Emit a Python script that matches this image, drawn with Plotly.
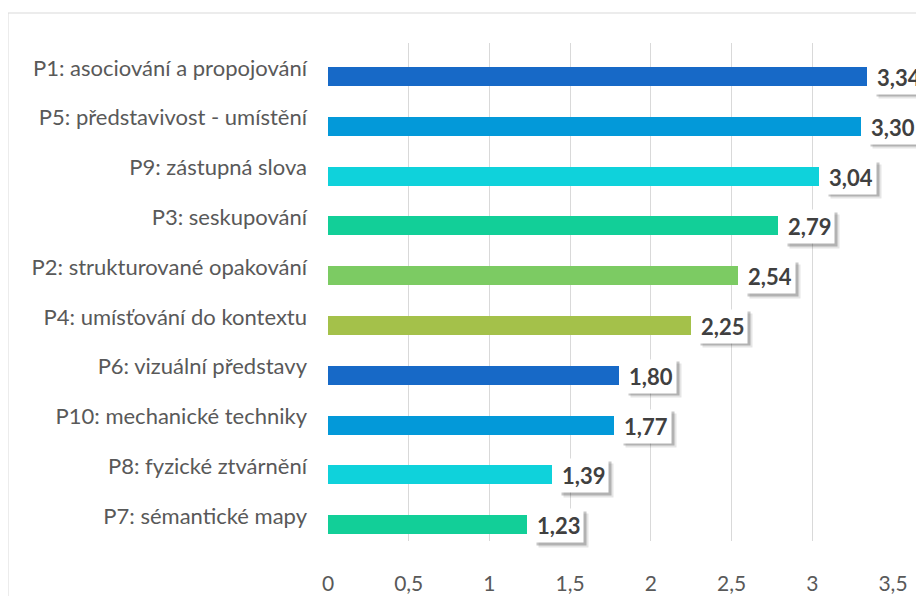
import plotly.graph_objects as go

# data (top to bottom as shown)
categories = [
    "P1: asociování a propojování",
    "P5: představivost - umístění",
    "P9: zástupná slova",
    "P3: seskupování",
    "P2: strukturované opakování",
    "P4: umísťování do kontextu",
    "P6: vizuální představy",
    "P10: mechanické techniky",
    "P8: fyzické ztvárnění",
    "P7: sémantické mapy",
]
values = [3.34, 3.30, 3.04, 2.79, 2.54, 2.25, 1.80, 1.77, 1.39, 1.23]
x_ticks = [0, 0.5, 1, 1.5, 2, 2.5, 3, 3.5]

# style
palette = ["#1769C7", "#0399D9", "#0FD2DB", "#12CF98", "#7CCB63", "#A4C14A"]
bar_colors = [palette[i % len(palette)] for i in range(len(values))]
font_family = "Lato, 'Open Sans', sans-serif"

# the page body has an 8px margin, so the figure is laid out 8px smaller
# and everything is placed relative to that offset
OFF = 8
W, H = 924 - OFF, 596 - OFF
L, R, T, B = 328 - OFF, 31, 43 - OFF, 55
pw, ph = W - L - R, H - T - B

fig = go.Figure()
fig.add_trace(go.Bar(
    x=values,
    y=categories,
    orientation="h",
    marker=dict(color=bar_colors, line=dict(width=0)),
    width=0.38,
    offset=-0.017,
    hoverinfo="skip",
    showlegend=False,
))

# data labels: white boxes with a soft drop shadow
for cat, v in zip(categories, values):
    txt = f"<b>{v:.2f}</b>".replace(".", ",")
    common = dict(x=v, y=cat, xref="x", yref="y", xanchor="left", yanchor="middle",
                  showarrow=False, borderpad=3)
    fig.add_annotation(text=txt, xshift=11, yshift=-14, bgcolor="rgba(0,0,0,0.10)",
                       font=dict(family=font_family, size=22, color="rgba(0,0,0,0)"), **common)
    fig.add_annotation(text=txt, xshift=9, yshift=-12, bgcolor="rgba(0,0,0,0.22)",
                       font=dict(family=font_family, size=22, color="rgba(0,0,0,0)"), **common)
    fig.add_annotation(text=txt, xshift=6, yshift=-9.5, bgcolor="white",
                       font=dict(family=font_family, size=22, color="#404040"), **common)

# outer chart border
fig.add_shape(type="rect", xref="paper", yref="paper",
              x0=(0 - L) / pw, x1=(W + 20 - L) / pw,
              y0=(T + ph - (H + 20)) / ph, y1=(T + ph - 5) / ph,
              line=dict(color="#D9D9D9", width=1), fillcolor="rgba(0,0,0,0)", layer="below")

fig.update_layout(
    width=W, height=H,
    margin=dict(l=L, r=R, t=T, b=B, autoexpand=False),
    paper_bgcolor="white",
    plot_bgcolor="white",
    separators=",.",
    font=dict(family=font_family, color="#595959"),
    bargap=0,
    xaxis=dict(
        range=[0, 3.5],
        tickvals=x_ticks,
        showgrid=True, gridcolor="#D9D9D9", gridwidth=1,
        zeroline=False, showline=False, ticks="",
        tickfont=dict(size=21, color="#595959"),
        ticklabelstandoff=28,
        automargin=False,
        fixedrange=True,
    ),
    yaxis=dict(
        categoryorder="array",
        categoryarray=categories,
        range=[9.5, -0.5],
        showgrid=False, zeroline=False, showline=False, ticks="",
        tickfont=dict(size=22, color="#595959"),
        ticklabelstandoff=20,
        automargin=False,
        fixedrange=True,
    ),
)

fig.write_html("out.html")
